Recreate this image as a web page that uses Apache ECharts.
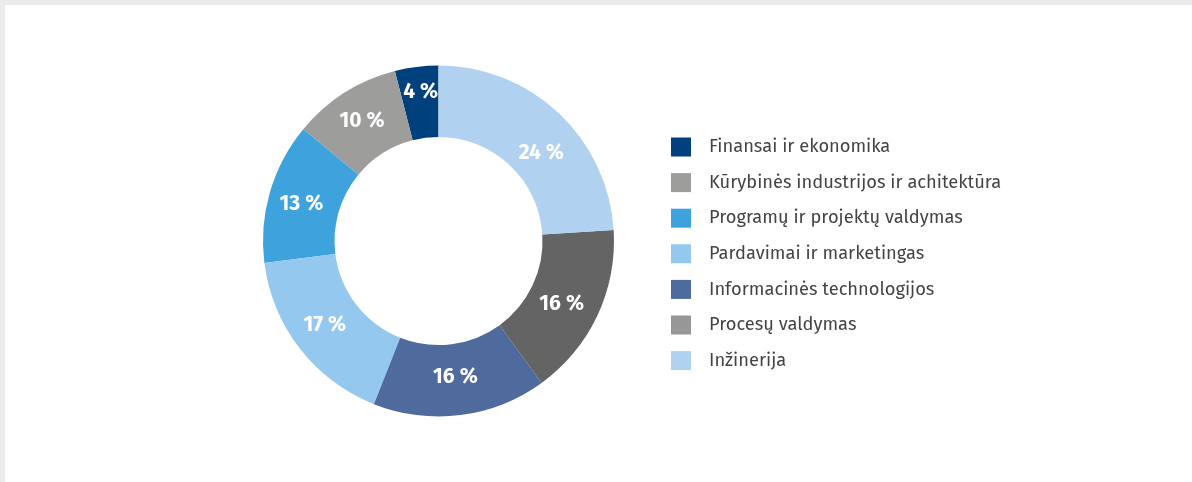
<!DOCTYPE html>
<html lang="lt">
<head>
    <meta charset="UTF-8">
    <title>Sritys</title>
    <script src="https://cdn.jsdelivr.net/npm/echarts@6/dist/echarts.min.js"></script>
</head>
<body style="margin:0; background:#ebebeb;">
<div id="main" style="position:absolute; left:5px; top:5px; width:1187px; height:477px; background:#fff;"></div>
<script type="text/javascript">
    var categories = ['Finansai ir ekonomika', 'Kūrybinės industrijos ir achitektūra', 'Programų ir projektų valdymas',
        'Pardavimai ir marketingas', 'Informacinės technologijos', 'Procesų valdymas', 'Inžinerija'];
    var values = [4, 10, 13, 17, 16, 16, 24];
    var sliceColors = ['#00407c', '#9d9d9c', '#3ea3dc', '#94c8ef', '#4f6b9d', '#646464', '#b1d1f0'];
    var legendColors = ['#00407c', '#9d9d9c', '#3ea3dc', '#94c8ef', '#4f6b9d', '#979797', '#b1d1f0'];

    var myChart = echarts.init(document.getElementById('main'));

    // labels in the original are nudged a little by hand
    var labelNudge = [[0, -7], [0, 1], [0, 3], [-1, -3], [-1, -5], [-6, 2], [5, 16]];

    var pieData = categories.map(function (name, i) {
        return {
            name: name,
            value: values[i],
            itemStyle: { color: sliceColors[i] },
            label: { offset: labelNudge[i] }
        };
    });
    var legendData = categories.map(function (name, i) {
        return { name: name, itemStyle: { color: legendColors[i] } };
    });

    myChart.setOption({
        animation: false,
        legend: {
            orient: 'vertical',
            left: 661,
            top: 127,
            icon: 'rect',
            itemWidth: 20,
            itemHeight: 19,
            itemGap: 15.6,
            data: legendData,
            textStyle: {
                fontFamily: 'Fira Sans, Noto Sans, sans-serif',
                fontSize: 18.3,
                lineHeight: 20,
                color: '#444',
                padding: [0, 0, 0, 13]
            },
            selectedMode: false
        },
        series: [{
            type: 'pie',
            center: [433.5, 236],
            radius: [104, 175.5],
            startAngle: 90,
            clockwise: false,
            silent: true,
            label: {
                show: true,
                position: 'inside',
                formatter: '{c} %',
                color: '#fff',
                fontWeight: 'bold',
                fontSize: 21,
                fontFamily: 'Fira Sans, Noto Sans, sans-serif'
            },
            labelLine: { show: false },
            data: pieData
        }]
    });
</script>
</body>
</html>
